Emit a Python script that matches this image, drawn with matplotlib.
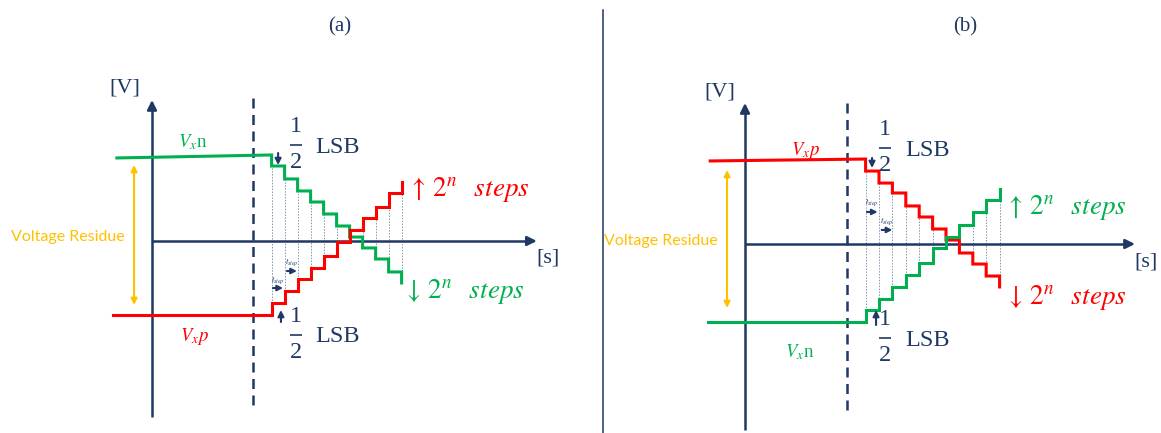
import matplotlib
matplotlib.use("Agg")
import matplotlib.pyplot as plt
from matplotlib.lines import Line2D

plt.rcParams['font.family'] = ['Liberation Serif', 'DejaVu Serif']
plt.rcParams['mathtext.fontset'] = 'stix'

W, H = 1161, 433
NAVY = "#1F3864"
GREEN = "#00B050"
RED = "#FF0000"
ORANGE = "#FFC000"
DOT = "#8496B0"

# ---------------- data (time in t_step units, voltage in LSB units) ----------------
titles = ["(a)", "(b)"]
residue_label = "Voltage Residue"
lsb_label = "LSB"
v_unit, s_unit = "[V]", "[s]"

# panel (a): Vxn (green) on top converging down, Vxp (red) on bottom converging up
step_times_a = [9.2, 10.2, 11.2, 12.2, 13.2, 14.2, 15.2, 16.2, 17.2, 18.2, 19.2]
green_levels_a = [7.17, 6.25, 5.17, 4.17, 3.25, 2.25, 1.25, 0.33, -0.58, -1.5, -2.58, -3.5]
red_levels_a = [-6.17, -5.17, -4.17, -3.17, -2.25, -1.25, -0.08, 0.92, 1.92, 2.83, 4.0, 4.92]
green_lead_a = (-2.7, 6.92)   # start of the flat Vxn segment
red_lead_a = (-3.0, -6.17)    # start of the flat Vxp segment
dashed_a = 7.77

# panel (b): Vxp (red) on top converging down, Vxn (green) on bottom converging up
step_times_b = [9.0, 10.0, 11.0, 12.0, 13.0, 14.0, 15.0, 16.0, 17.0, 18.0, 19.0]
red_levels_b = [7.08, 6.08, 5.08, 4.25, 3.17, 2.25, 1.25, 0.33, -0.75, -1.67, -2.67, -3.58]
green_levels_b = [-6.5, -5.5, -4.58, -3.58, -2.58, -1.58, -0.33, 0.58, 1.58, 2.67, 3.67, 4.58]
red_lead_b = (-2.6, 6.92)
green_lead_b = (-2.76, -6.5)
dashed_b = 7.6

fig = plt.figure(figsize=(W / 100, H / 100), dpi=100)
fig.patch.set_facecolor("white")


def make_panel(ox, oy, sx, sy):
    ax = fig.add_axes([0, 0, 1, 1])
    ax.set_xlim(-ox / sx, (W - ox) / sx)
    ax.set_ylim((oy - H) / sy, oy / sy)
    ax.axis("off")
    ax.patch.set_alpha(0)
    return ax


def staircase(lead, times, levels):
    xs, ys = [lead[0]], [lead[1]]
    for k, t in enumerate(times):
        xs += [t, t]
        ys += [levels[k], levels[k + 1]]
    return xs, ys


def arrow(ax, start, end, color, lw, ms, style="-|>"):
    ax.annotate("", xy=end, xytext=start,
                arrowprops=dict(arrowstyle=style, color=color, lw=lw,
                                mutation_scale=ms, shrinkA=0, shrinkB=0))


def draw_panel(ax, times, top_levels, bot_levels, top_lead, bot_lead,
               top_color, bot_color, dashed_x, yext, xend, res_x, res_span,
               texts):
    # dotted verticals between the two staircases at each step
    for k, t in enumerate(times):
        vals = [top_levels[k], top_levels[k + 1], bot_levels[k], bot_levels[k + 1]]
        ax.vlines(t, min(vals), max(vals), colors=DOT, lw=0.7,
                  linestyles=(0, (1.5, 1.5)), zorder=1)
    # dashed sampling instant
    ax.plot([dashed_x, dashed_x], [texts["dash_bot"], texts["dash_top"]],
            color=NAVY, lw=1.8, linestyle=(0, (4, 2.6)), zorder=2)
    # axes
    ax.plot([0, 0], [yext[0], yext[1] - 0.3], color=NAVY, lw=1.8, zorder=2,
            solid_capstyle="butt")
    arrow(ax, (0, yext[1] - 0.6), (0, yext[1]), NAVY, 1.8, 14)
    ax.plot([0, xend - 0.3], [0, 0], color=NAVY, lw=1.8, zorder=2,
            solid_capstyle="butt")
    arrow(ax, (xend - 0.6, 0), (xend, 0), NAVY, 1.8, 14)
    # staircases
    xs, ys = staircase(top_lead, times, top_levels)
    ax.plot(xs, ys, color=top_color, lw=2.2, solid_joinstyle="miter", zorder=3)
    xs, ys = staircase(bot_lead, times, bot_levels)
    ax.plot(xs, ys, color=bot_color, lw=2.2, solid_joinstyle="miter", zorder=3)
    # voltage residue arrow
    arrow(ax, (res_x, res_span[0]), (res_x, res_span[1]), ORANGE, 1.5, 9,
          style="<|-|>")
    ax.text(texts["res"][0], texts["res"][1], residue_label, color=ORANGE,
            fontsize=11.5, family=["Lato", "DejaVu Sans"], ha="center", va="center")
    # units
    ax.text(*texts["V"], v_unit, color=NAVY, fontsize=16, ha="center", va="center")
    ax.text(*texts["s"], s_unit, color=NAVY, fontsize=16, ha="center", va="center")
    # signal labels
    ax.text(*texts["top_lbl"][:2], texts["top_lbl"][2], color=top_color,
            fontsize=13.5, ha="center", va="center")
    ax.text(*texts["bot_lbl"][:2], texts["bot_lbl"][2], color=bot_color,
            fontsize=13.5, ha="center", va="center")
    # half LSB annotations: numerator, fraction bar, denominator, "LSB"
    for (fx, fy), (lx, ly) in texts["frac"]:
        ax.text(fx, fy + 1.55, "1", color=NAVY, fontsize=17.5, ha="center", va="center")
        ax.text(fx, fy - 1.45, "2", color=NAVY, fontsize=17.5, ha="center", va="center")
        ax.plot([fx - 0.45, fx + 0.45], [fy, fy], color=NAVY, lw=1.2,
                solid_capstyle="butt")
        ax.text(lx, ly, lsb_label, color=NAVY, fontsize=17.5, ha="left", va="center")
    # small half-LSB arrows
    for (x, y0, y1) in texts["half_arrows"]:
        arrow(ax, (x, y0), (x, y1), NAVY, 1.5, 9)
    # t_step arrows
    for (x0, x1, y, ty) in texts["tstep"]:
        arrow(ax, (x0, y), (x1, y), NAVY, 1.5, 8)
        ax.text((x0 + x1) / 2, ty, r"$t_{step}$", color=NAVY, fontsize=6,
                ha="center", va="center")
    # 2^n steps labels
    ax.text(*texts["up"][:2], r"$\uparrow\, 2^{n}\;\;\; steps$", color=texts["up"][2],
            fontsize=19.5, ha="left", va="center")
    ax.text(*texts["down"][:2], r"$\downarrow\, 2^{n}\;\;\; steps$", color=texts["down"][2],
            fontsize=19.5, ha="left", va="center")


# ---------------- panel (a) ----------------
ax_a = make_panel(152, 241, 13.0, 12.0)
draw_panel(
    ax_a, step_times_a, green_levels_a, red_levels_a, green_lead_a, red_lead_a,
    GREEN, RED, dashed_a, (-14.7, 11.75), 29.6, -1.38, (-5.33, 6.33),
    dict(dash_bot=-13.7, dash_top=12.2,
         res=(-6.46, 0.33), V=(-2.08, 12.75), s=(30.46, -1.42),
         top_lbl=(3.15, 8.25, r"$V_x$n"), bot_lbl=(3.3, -7.92, r"$V_xp$"),
         frac=[((11.08, 8.0), (12.54, 7.83)), ((11.08, -7.83), (12.54, -8.0))],
         half_arrows=[(9.7, 7.33, 6.33), (9.92, -6.75, -5.75)],
         tstep=[(9.3, 10.08, -3.92, -3.25), (10.38, 11.15, -2.5, -1.75)],
         up=(19.7, 4.25, RED), down=(19.3, -4.25, GREEN)))

# ---------------- panel (b) ----------------
ax_b = make_panel(745, 244, 13.4, 12.0)
draw_panel(
    ax_b, step_times_b, red_levels_b, green_levels_b, red_lead_b, green_lead_b,
    RED, GREEN, dashed_b, (-15.5, 11.75), 29.1, -1.34, (-5.33, 6.17),
    dict(dash_bot=-13.8, dash_top=12.0,
         res=(-6.27, 0.25), V=(-1.87, 12.67), s=(29.9, -1.5),
         top_lbl=(4.55, 7.83, r"$V_xp$"), bot_lbl=(4.1, -9.0, r"$V_x$n"),
         frac=[((10.45, 8.0), (11.94, 7.83)), ((10.45, -7.83), (11.94, -8.0))],
         half_arrows=[(9.48, 7.17, 6.33), (9.78, -6.75, -5.5)],
         tstep=[(9.1, 9.9, 2.67, 3.5), (10.2, 11.0, 1.17, 1.92)],
         up=(19.4, 3.08, GREEN), down=(19.4, -4.42, RED)))

# titles and separator
fig.text(340 / W, 1 - 27 / H, titles[0], color=NAVY, fontsize=15, ha="center", va="center")
fig.text(965 / W, 1 - 27 / H, titles[1], color=NAVY, fontsize=15, ha="center", va="center")
fig.add_artist(Line2D([603 / W, 603 / W], [0, 1 - 10 / H], color=NAVY, lw=1.1))

fig.savefig("out.png", dpi=100, facecolor="white")
